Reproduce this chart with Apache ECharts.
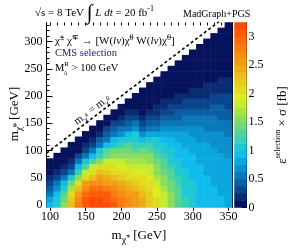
<!DOCTYPE html>
<html><head><meta charset="utf-8">
<script src="https://cdn.jsdelivr.net/npm/echarts@6/dist/echarts.min.js"></script>
<style>html,body{margin:0;padding:0;background:#fff}#c{width:291px;height:251px}</style>
</head><body><div id="c"></div>
<script>
// ---------------- data ----------------
const xBins = [100,110,120,130,140,150,160,170,180,190,200,210,220,230,240,250,260,270,280,290,300,310,320,330,340,350];
const yBins = [0,10,20,30,40,50,60,70,80,90,100,110,120,130,140,150,160,170,180,190,200,210,220,230,240,250,260,270,280,290,300,310,320,330];
const xTickValues = [100,150,200,250,300,350];
const xMinorValues = [100,110,120,130,140,150,160,170,180,190,200,210,220,230,240,250,260,270,280,290,300,310,320,330,340,350];
const yTickValues = [0,50,100,150,200,250,300];
const yMinorValues = [0,10,20,30,40,50,60,70,80,90,100,110,120,130,140,150,160,170,180,190,200,210,220,230,240,250,260,270,280,290,300,310,320,330];
const zTickValues = [0,0.5,1,1.5,2,2.5,3];
const diagonal = [[95,95],[345,345]];

// efficiency x cross section [fb], one array per chargino mass column, from m_chi0 = 0 upward
const c100 = [0.9,0.8,0.6,0.4,0.25,0.14,0.08,0.05,0.03];
const c110 = [1.1,1.05,0.9,0.7,0.5,0.3,0.16,0.09,0.05,0.03];
const c120 = [1.5,1.45,1.3,1.1,0.9,0.55,0.32,0.17,0.09,0.05,0.03];
const c130 = [2.3,2.2,2.0,1.7,1.4,1.0,0.6,0.35,0.18,0.09,0.05,0.03];
const c140 = [2.8,2.7,2.5,2.3,2.0,1.6,1.2,0.9,0.5,0.25,0.12,0.06,0.03];
const c150 = [3.1,3.05,2.9,2.7,2.5,2.1,1.8,1.3,1.0,0.6,0.3,0.15,0.08,0.04];
const c160 = [3.25,3.2,3.1,2.9,2.7,2.3,2.1,1.8,1.3,0.9,0.6,0.35,0.2,0.1,0.05];
const c170 = [3.25,3.2,3.05,2.9,2.7,2.5,2.3,2.0,1.6,1.2,1.0,0.6,0.4,0.2,0.12,0.06];
const c180 = [3.15,3.1,3.0,2.8,2.6,2.4,2.2,2.0,1.8,1.4,1.3,0.9,0.6,0.4,0.25,0.12,0.06];
const c190 = [3.0,2.95,2.85,2.7,2.5,2.3,2.1,2.0,1.8,1.5,1.4,1.1,0.9,0.6,0.4,0.25,0.12,0.06];
const c200 = [2.85,2.8,2.7,2.6,2.4,2.2,2.0,1.9,1.8,1.6,1.4,1.2,1.1,0.7,0.5,0.35,0.2,0.1,0.05];
const c210 = [2.7,2.65,2.6,2.45,2.3,2.1,2.0,1.85,1.7,1.6,1.4,1.3,1.1,0.9,0.6,0.4,0.25,0.15,0.08,0.05];
const c220 = [2.6,2.55,2.5,2.35,2.2,2.05,1.95,1.8,1.65,1.55,1.35,1.2,1.1,1.0,0.7,0.5,0.35,0.2,0.12,0.07,0.05];
const c230 = [2.45,2.4,2.3,2.2,2.1,2.0,1.95,1.85,1.7,1.55,1.4,1.2,0.95,0.65,0.45,0.3,0.2,0.12,0.08,0.05,0.04,0.03];
const c240 = [2.2,2.2,2.15,2.1,2.0,1.95,1.85,1.75,1.6,1.5,1.35,1.2,1.05,0.8,0.55,0.4,0.28,0.2,0.12,0.08,0.05,0.04,0.03];
const c250 = [2.05,2.0,1.95,1.9,1.8,1.7,1.6,1.5,1.4,1.3,1.2,1.1,1.0,0.82,0.62,0.48,0.34,0.24,0.15,0.1,0.07,0.05,0.04,0.03];
const c260 = [1.8,1.8,1.75,1.7,1.6,1.5,1.45,1.35,1.25,1.15,1.1,1.0,0.92,0.8,0.66,0.52,0.4,0.3,0.2,0.14,0.1,0.07,0.05,0.04,0.03];
const c270 = [1.55,1.55,1.5,1.45,1.4,1.3,1.25,1.15,1.1,1.05,1.0,0.95,0.88,0.78,0.68,0.56,0.44,0.34,0.25,0.18,0.12,0.08,0.06,0.05,0.04,0.03];
const c280 = [1.35,1.3,1.3,1.25,1.2,1.15,1.1,1.05,1.0,0.95,0.9,0.88,0.84,0.78,0.68,0.58,0.48,0.38,0.3,0.22,0.15,0.1,0.07,0.05,0.04,0.03,0.03];
const c290 = [1.15,1.15,1.1,1.1,1.05,1.0,1.0,0.95,0.95,0.9,0.88,0.85,0.8,0.76,0.68,0.6,0.5,0.4,0.32,0.25,0.18,0.12,0.08,0.06,0.05,0.04,0.03,0.03];
const c300 = [1.05,1.05,1.0,1.0,1.0,0.95,0.95,0.92,0.9,0.88,0.85,0.82,0.78,0.74,0.68,0.6,0.52,0.44,0.35,0.28,0.2,0.14,0.1,0.07,0.05,0.04,0.03,0.03,0.02];
const c310 = [0.95,0.95,0.95,0.92,0.92,0.9,0.9,0.88,0.85,0.83,0.8,0.78,0.74,0.7,0.64,0.58,0.5,0.44,0.37,0.3,0.22,0.16,0.12,0.08,0.06,0.05,0.04,0.03,0.03,0.02];
const c320 = [0.92,0.92,0.9,0.9,0.88,0.88,0.86,0.85,0.83,0.8,0.78,0.75,0.72,0.68,0.62,0.56,0.5,0.44,0.37,0.31,0.24,0.18,0.13,0.1,0.07,0.05,0.04,0.03,0.03,0.02,0.02];
const c330 = [0.9,0.9,0.88,0.88,0.86,0.85,0.84,0.82,0.8,0.78,0.75,0.72,0.7,0.66,0.6,0.55,0.5,0.44,0.38,0.32,0.26,0.2,0.15,0.11,0.08,0.06,0.05,0.04,0.03,0.03,0.02,0.02];
const c340 = [0.88,0.88,0.86,0.86,0.85,0.84,0.82,0.8,0.78,0.76,0.74,0.7,0.68,0.64,0.58,0.53,0.48,0.43,0.38,0.32,0.27,0.22,0.17,0.13,0.1,0.07,0.05,0.04,0.03,0.03,0.02,0.02,0.02];
const c350 = [0.86,0.86,0.85,0.84,0.83,0.82,0.8,0.78,0.76,0.74,0.72,0.69,0.66,0.62,0.57,0.52,0.47,0.42,0.37,0.32,0.27,0.22,0.18,0.14,0.1,0.08,0.06,0.05,0.04,0.03,0.03,0.02,0.02,0.02];
const columns = [c100,c110,c120,c130,c140,c150,c160,c170,c180,c190,c200,c210,c220,c230,c240,c250,c260,c270,c280,c290,c300,c310,c320,c330,c340,c350];

// colour palette (26 contour bands 0 .. 3.25)
const zMax = 3.25;
const bandColors = ['#06125c','#0a2c74','#0a468c','#0a5ea2','#0a78b8','#0a90cc','#0aa6de','#10bcec','#20c8d4','#38d0b4','#54d494','#70d878','#8cdc60','#a8e448','#c4ec30','#dcec24','#e2dc20','#e6cc1c','#eabc1c','#eeac18','#f29c16','#f58c14','#f87c12','#fb6c10','#fd5a08','#ff4800'];
const nBands = bandColors.length;
const bandStep = zMax / nBands;

// ---------------- build ----------------
const heatData = [];
columns.forEach((col, i) => col.forEach((v, j) => heatData.push([i, j, v])));
const barCats = bandColors.map((c, k) => String(k));
const barData = bandColors.map((c, k) => [0, k, (k + 0.5) * bandStep]);
const pieces = bandColors.map((c, k) => (k === nBands - 1 ? {gte: k * bandStep, color: c} : {gte: k * bandStep, lt: (k + 1) * bandStep, color: c}));

const F = 'Liberation Serif';
const blk = {color: '#000', width: 1};
function valAxis(pos, min, max, vals, len, line, labels, grid) {
  return {
    type: 'value', gridIndex: grid || 0, position: pos, min: min, max: max,
    axisLine: {show: line, lineStyle: blk},
    axisTick: {show: true, inside: true, length: len, customValues: vals, lineStyle: blk},
    axisLabel: {show: labels, customValues: vals, fontFamily: F, fontSize: 12, color: '#000', margin: 3},
    splitLine: {show: false}, minorTick: {show: false}
  };
}

const chart = echarts.init(document.getElementById('c'), null, {renderer: 'canvas'});
chart.setOption({
  animation: false,
  backgroundColor: '#fff',
  grid: [
    {left: 46.5, top: 22.5, width: 185.5, height: 185},
    {left: 234.5, top: 22.5, width: 12, height: 185}
  ],
  xAxis: [
    {type: 'category', gridIndex: 0, data: xBins, show: false},
    valAxis('bottom', 95, 355, xTickValues, 6, true, true),
    valAxis('bottom', 95, 355, xMinorValues, 3, false, false),
    valAxis('top', 95, 355, xTickValues, 6, true, false),
    valAxis('top', 95, 355, xMinorValues, 3, false, false),
    {type: 'category', gridIndex: 1, data: ['z'], show: false}
  ],
  yAxis: [
    {type: 'category', gridIndex: 0, data: yBins, show: false},
    Object.assign(valAxis('left', -5, 335, yTickValues, 6, true, true), {axisLabel: {customValues: yTickValues, fontFamily: F, fontSize: 12, color: '#000', margin: 4}}),
    valAxis('left', -5, 335, yMinorValues, 3, false, false),
    valAxis('right', -5, 335, yTickValues, 6, true, false),
    valAxis('right', -5, 335, yMinorValues, 3, false, false),
    {type: 'category', gridIndex: 1, data: barCats, show: false},
    Object.assign(valAxis('right', 0, zMax, zTickValues, 5, true, true, 1), {axisLabel: {customValues: zTickValues, fontFamily: F, fontSize: 12, color: '#000', margin: 2}})
  ],
  visualMap: {type: 'piecewise', show: false, dimension: 2, seriesIndex: [0, 1], pieces: pieces},
  series: [
    {type: 'heatmap', xAxisIndex: 0, yAxisIndex: 0, data: heatData, progressive: 0, emphasis: {disabled: true}, itemStyle: {borderWidth: 0}},
    {type: 'heatmap', xAxisIndex: 5, yAxisIndex: 5, data: barData, progressive: 0, emphasis: {disabled: true}},
    {type: 'line', xAxisIndex: 1, yAxisIndex: 1, data: diagonal, symbol: 'none', clip: true,
     lineStyle: {color: '#000', width: 1.6, type: [3, 2.5]}, z: 5}
  ],
  graphic: [
    {type: 'text', x: 35, y: 13, z: 10, style: {
      text: '{t|√s = 8 TeV }{int|∫}{i| L dt}{t| = 20 fb}{sup|-1}', verticalAlign: 'middle',
      rich: {t: {fontFamily: F, fontSize: 11, lineHeight: 16}, i: {fontFamily: F, fontStyle: 'italic', fontSize: 11, lineHeight: 16},
             int: {fontFamily: F, fontSize: 21, lineHeight: 16}, sup: {fontFamily: F, fontSize: 8, lineHeight: 9, verticalAlign: 'top'}}}},
    {type: 'text', x: 183, y: 14, z: 10, style: {text: 'MadGraph+PGS', font: '10px "Liberation Serif"', fill: '#000', verticalAlign: 'middle'}},
    {type: 'text', x: 55, y: 41, z: 10, style: {
      text: '{t|χ̃}{p|±}{t| χ̃}{p|∓}{t| → [W(}{i|lν}{t|)χ̃}{p|0}{t| W(}{i|lν}{t|)χ̃}{p|0}{t|]}', verticalAlign: 'middle',
      rich: {t: {fontFamily: F, fontSize: 11, lineHeight: 15}, i: {fontFamily: F, fontStyle: 'italic', fontSize: 11, lineHeight: 15},
             p: {fontFamily: F, fontSize: 8, lineHeight: 9, verticalAlign: 'top'}}}},
    {type: 'text', x: 55, y: 53, z: 10, style: {text: 'CMS selection', font: '10.5px "Liberation Serif"', fill: '#1a1a7a', verticalAlign: 'middle'}},
    {type: 'text', x: 55, y: 68, z: 10, style: {
      text: '{t|M}{p|R}{t| > 100 GeV}', verticalAlign: 'middle',
      rich: {t: {fontFamily: F, fontSize: 10.5, lineHeight: 15, color: '#1a1a7a'}, p: {fontFamily: F, fontSize: 7, lineHeight: 8, verticalAlign: 'top', color: '#1a1a7a'}}}},
    {type: 'text', x: 63.5, y: 73, z: 10, style: {text: 'Δ', font: '6px "Liberation Serif"', fill: '#1a1a7a', verticalAlign: 'middle'}},
    {type: 'text', x: 92, y: 110, rotation: 37 * Math.PI / 180, z: 10, style: {
      text: '{t|m}{s|χ̃}{p|±}{t| = m}{s|χ̃}{p|0}', align: 'center', verticalAlign: 'middle',
      rich: {t: {fontFamily: F, fontSize: 11, lineHeight: 16}, s: {fontFamily: F, fontSize: 8, lineHeight: 9, verticalAlign: 'bottom'},
             p: {fontFamily: F, fontSize: 6, lineHeight: 14, verticalAlign: 'middle'}}}},
    {type: 'text', x: 15, y: 114, rotation: Math.PI / 2, z: 10, style: {
      text: '{t|m}{s|χ̃}{p|0}{t| [GeV]}', align: 'center', verticalAlign: 'middle',
      rich: {t: {fontFamily: F, fontSize: 13, lineHeight: 18}, s: {fontFamily: F, fontSize: 10, lineHeight: 10, verticalAlign: 'bottom'},
             p: {fontFamily: F, fontSize: 7, lineHeight: 16, verticalAlign: 'middle'}}}},
    {type: 'text', x: 139, y: 236, z: 10, style: {
      text: '{t|m}{s|χ̃}{p|±}{t| [GeV]}', align: 'center', verticalAlign: 'middle',
      rich: {t: {fontFamily: F, fontSize: 13, lineHeight: 18}, s: {fontFamily: F, fontSize: 10, lineHeight: 10, verticalAlign: 'bottom'},
             p: {fontFamily: F, fontSize: 7, lineHeight: 16, verticalAlign: 'middle'}}}},
    {type: 'text', x: 283, y: 125, rotation: Math.PI / 2, z: 10, style: {
      text: '{t|ε}{p|selection}{t| × σ [fb]}', align: 'center', verticalAlign: 'middle',
      rich: {t: {fontFamily: F, fontSize: 13, lineHeight: 18}, p: {fontFamily: F, fontSize: 8, lineHeight: 9, verticalAlign: 'top'}}}}
  ]
});
</script></body></html>
